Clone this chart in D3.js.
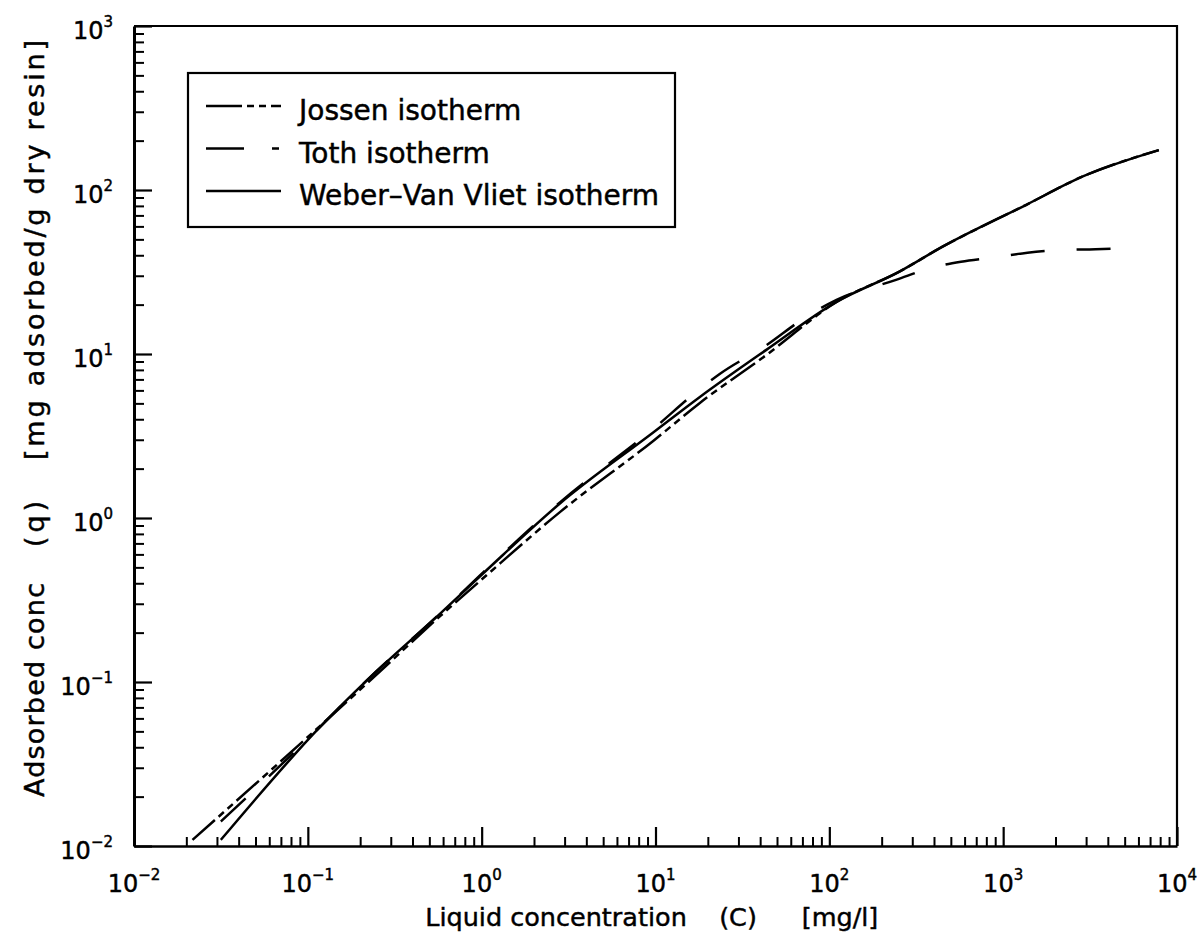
<!DOCTYPE html>
<html>
<head>
<meta charset="utf-8">
<script src="https://cdn.jsdelivr.net/npm/d3@7"></script>
<style>
  html, body { margin: 0; padding: 0; background: #fff; }
  svg { display: block; }
  text { font-family: "DejaVu Sans", sans-serif; fill: #000; stroke: #000; stroke-width: 0.45px; }
</style>
</head>
<body>
<svg id="chart" width="1202" height="935"></svg>
<script>
// Isotherm curves: liquid concentration C [mg/l] vs adsorbed concentration q [mg/g]
const jossenC = [0.0217, 0.1, 0.22, 0.579, 1.07, 2.83, 9.7, 18, 43.4, 110, 253, 448, 1350, 2850, 7860];
const jossenQ = [0.0109, 0.0462, 0.0986, 0.253, 0.449, 1.09, 2.95, 5.03, 9.86, 20.75, 31.8, 45.1, 81, 120.5, 175];

const tothC = [0.0316, 0.1, 0.22, 0.579, 1.07, 2.83, 9.7, 18, 23.4, 43.4, 72, 110, 242, 376, 572, 908, 1380, 2190, 3400, 5290];
const tothQ = [0.0141, 0.0449, 0.103, 0.263, 0.489, 1.25, 3.49, 6.12, 7.55, 11.3, 16.6, 21.4, 28.3, 33.3, 36.5, 38.9, 41.5, 43.1, 43.5, 44.3];

const weberC = [0.0316, 0.118, 0.22, 0.579, 1.07, 2.83, 9.7, 18, 43.4, 110, 253, 448, 1350, 2850, 7860];
const weberQ = [0.0109, 0.0534, 0.103, 0.262, 0.482, 1.23, 3.32, 5.47, 10.6, 20.8, 31.8, 45.1, 81, 120.5, 175];

const seriesNames = ["Jossen isotherm", "Toth isotherm", "Weber\u2013Van Vliet isotherm"];

// Decade exponents used for the major tick labels
const xTickExponents = [-2, -1, 0, 1, 2, 3, 4];
const yTickExponents = [-2, -1, 0, 1, 2, 3];

const xTitleParts = ["Liquid concentration", "(C)", "[mg/l]"];
const yTitleParts = ["Adsorbed conc", "(q)", "[mg adsorbed/g dry resin]"];

// ---------------------------------------------------------------------------
const svg = d3.select("#chart");
const plot = { left: 134, right: 1177, top: 26, bottom: 846 };

const x = d3.scaleLog().domain([1e-2, 1e4]).range([plot.left, plot.right]);
const y = d3.scaleLog().domain([1e-2, 1e3]).range([plot.bottom, plot.top]);

const majorX = xTickExponents.map(e => Math.pow(10, e));
const majorY = yTickExponents.map(e => Math.pow(10, e));
const minorTicks = majors => {
  const out = [];
  majors.slice(0, -1).forEach(m => { for (let k = 2; k <= 9; k++) out.push(m * k); });
  return out;
};

// Bottom axis: ticks point up into the plot
svg.append("g")
  .attr("transform", `translate(0,${plot.bottom})`)
  .call(d3.axisBottom(x).tickValues(minorTicks(majorX)).tickSizeInner(-9).tickSizeOuter(0).tickFormat(""))
  .call(g => g.select(".domain").attr("stroke-width", 2.6))
  .call(g => g.selectAll(".tick line").attr("stroke-width", 2));
svg.append("g")
  .attr("transform", `translate(0,${plot.bottom})`)
  .call(d3.axisBottom(x).tickValues(majorX).tickSizeInner(-19).tickSizeOuter(0).tickFormat(""))
  .call(g => g.select(".domain").remove())
  .call(g => g.selectAll(".tick line").attr("stroke-width", 2.2));

// Left axis: ticks point right into the plot
svg.append("g")
  .attr("transform", `translate(${plot.left},0)`)
  .call(d3.axisLeft(y).tickValues(minorTicks(majorY)).tickSizeInner(-10).tickSizeOuter(0).tickFormat(""))
  .call(g => g.select(".domain").attr("stroke-width", 3))
  .call(g => g.selectAll(".tick line").attr("stroke-width", 2));
svg.append("g")
  .attr("transform", `translate(${plot.left},0)`)
  .call(d3.axisLeft(y).tickValues(majorY).tickSizeInner(-18).tickSizeOuter(0).tickFormat(""))
  .call(g => g.select(".domain").remove())
  .call(g => g.selectAll(".tick line").attr("stroke-width", 2.2));

// Top and right frame lines
svg.append("path")
  .attr("d", `M${plot.left},${plot.top}H${plot.right}V${plot.bottom}`)
  .attr("fill", "none").attr("stroke", "#000").attr("stroke-width", 2.2);

// Power-of-ten tick labels
const powerLabel = (sel, e) => {
  sel.append("tspan").text("10");
  sel.append("tspan").attr("font-size", 15).attr("dy", -12).text(e < 0 ? "\u2212" + (-e) : String(e));
};
xTickExponents.forEach(e => {
  svg.append("text")
    .attr("x", x(Math.pow(10, e))).attr("y", 892)
    .attr("text-anchor", "middle").attr("font-size", 24)
    .call(powerLabel, e);
});
yTickExponents.forEach(e => {
  svg.append("text")
    .attr("x", 113).attr("y", y(Math.pow(10, e)) + 13)
    .attr("text-anchor", "end").attr("font-size", 24)
    .call(powerLabel, e);
});

// Axis titles (spaced out in three pieces)
const xTitleCenters = [556, 738, 840];
xTitleParts.forEach((t, i) => {
  svg.append("text")
    .attr("x", xTitleCenters[i]).attr("y", 926)
    .attr("text-anchor", "middle").attr("font-size", 25.5)
    .text(t);
});
const yTitleCenters = [690, 524, 250];
const yTitleLengths = [214, 46, 420];
yTitleParts.forEach((t, i) => {
  svg.append("text")
    .attr("transform", `translate(44,${yTitleCenters[i]}) rotate(-90)`)
    .attr("text-anchor", "middle").attr("font-size", 27)
    .attr("textLength", yTitleLengths[i]).attr("lengthAdjust", "spacing")
    .text(t);
});

// Curves
const line = d3.line()
  .x(d => x(d[0]))
  .y(d => y(d[1]))
  .curve(d3.curveMonotoneX);

const series = [
  { c: jossenC, q: jossenQ, dash: "30,5,7,5,7,5", legendDash: "36,5,7,5,7,5,10" },
  { c: tothC, q: tothQ, dash: "34,32", legendDash: "38,28,7,40" },
  { c: weberC, q: weberQ, dash: null, legendDash: null }
];

series.forEach(s => {
  svg.append("path")
    .datum(d3.zip(s.c, s.q))
    .attr("d", line)
    .attr("fill", "none")
    .attr("stroke", "#000")
    .attr("stroke-width", 2.5)
    .attr("stroke-dasharray", s.dash);
});

// Legend
const legend = svg.append("g");
legend.append("rect")
  .attr("x", 188).attr("y", 73).attr("width", 487).attr("height", 154)
  .attr("fill", "#fff").attr("stroke", "#000").attr("stroke-width", 2.2);
const rowBaselines = [120, 162.5, 205];
series.forEach((s, i) => {
  const yy = rowBaselines[i] - 14;
  legend.append("line")
    .attr("x1", 206).attr("x2", 281).attr("y1", yy).attr("y2", yy)
    .attr("stroke", "#000").attr("stroke-width", 2.4)
    .attr("stroke-dasharray", s.legendDash);
  legend.append("text")
    .attr("x", 299).attr("y", rowBaselines[i])
    .attr("font-size", 28)
    .text(seriesNames[i]);
});
</script>
</body>
</html>
